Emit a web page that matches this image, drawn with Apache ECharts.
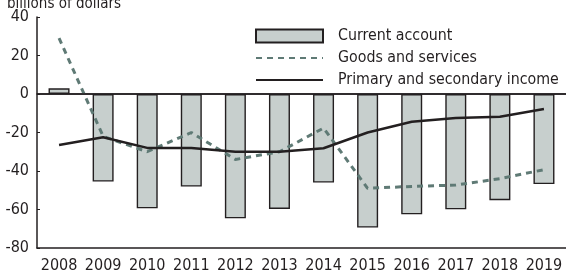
<!DOCTYPE html>
<html>
<head>
<meta charset="utf-8">
<script src="https://cdn.jsdelivr.net/npm/echarts@6/dist/echarts.min.js"></script>
<style>
  html, body { margin: 0; padding: 0; background: #fff; }
  #chart { width: 566px; height: 274px; }
</style>
</head>
<body>
<div id="chart"></div>
<script>
// 年份
const years = ['2008', '2009', '2010', '2011', '2012', '2013', '2014', '2015', '2016', '2017', '2018', '2019']
// 经常账户
const currentAccount = [3, -45.5, -59.4, -48.1, -64.6, -59.7, -46, -69.4, -62.5, -59.9, -55.2, -46.8]
// 货物和服务
const goodsServices = [29, -22, -30, -20, -34, -30, -17.7, -49, -48, -47.3, -44, -39.3]
// 初次和二次收入
const primarySecondary = [-26.5, -22.5, -28, -28, -30, -30, -28.2, -20, -14.4, -12.5, -11.8, -7.8]
const yTicks = [-80, -60, -40, -20, 0, 20, 40]

const font = '"DejaVu Sans Condensed", "Liberation Sans Narrow", "Liberation Sans", sans-serif'
const chart = echarts.init(document.getElementById('chart'))

// 图例中折线不显示圆点
const hideDot = { opacity: 0, borderWidth: 0 }

const option = {
  animation: false,
  title: {
    text: 'billions of dollars',
    left: 2,
    top: -8,
    textStyle: { fontFamily: font, fontSize: 15, fontWeight: 'normal', color: '#231f20' }
  },
  legend: {
    orient: 'vertical',
    left: 255,
    top: 28,
    padding: 0,
    itemWidth: 67,
    itemHeight: 13,
    itemGap: 6,
    textStyle: { fontFamily: font, fontSize: 15.8, color: '#231f20', padding: [0, 0, 0, 10] },
    data: [
      { name: 'Current account', icon: 'rect' },
      { name: 'Goods and services', itemStyle: hideDot },
      { name: 'Primary and secondary income', itemStyle: hideDot }
    ]
  },
  grid: { left: 37, top: 17, right: -2, bottom: 26 },
  xAxis: [
    {
      type: 'category',
      data: years,
      axisLine: { onZero: false, lineStyle: { color: '#231f20', width: 1.5 } },
      axisTick: { show: false },
      axisLabel: { interval: 0, fontFamily: font, fontSize: 16, color: '#231f20', margin: 10 }
    },
    {
      // 顶部边框
      type: 'category',
      position: 'top',
      data: years,
      axisLine: { lineStyle: { color: '#231f20', width: 1.5 } },
      axisTick: { show: false },
      axisLabel: { show: false }
    }
  ],
  yAxis: {
    type: 'value',
    min: yTicks[0],
    max: yTicks[yTicks.length - 1],
    interval: 20,
    axisLine: { show: true, lineStyle: { color: '#231f20', width: 1.5 } },
    axisTick: { show: true, inside: true, length: 3, lineStyle: { color: '#231f20' } },
    splitLine: { show: false },
    axisLabel: { fontFamily: font, fontSize: 16, color: '#231f20', margin: 8 }
  },
  series: [
    {
      name: 'Current account',
      type: 'bar',
      data: currentAccount,
      barWidth: 21,
      itemStyle: { color: '#c7cfcd', borderColor: '#231f20', borderWidth: 1.4 },
      markLine: {
        silent: true,
        symbol: 'none',
        label: { show: false },
        lineStyle: { color: '#231f20', width: 1.5, type: 'solid' },
        data: [{ yAxis: 0 }]
      }
    },
    {
      name: 'Goods and services',
      type: 'line',
      data: goodsServices,
      symbol: 'none',
      lineStyle: { color: '#5f7a75', width: 3, type: [6, 5] },
      itemStyle: { color: '#5f7a75' }
    },
    {
      name: 'Primary and secondary income',
      type: 'line',
      data: primarySecondary,
      symbol: 'none',
      lineStyle: { color: '#231f20', width: 2.5 },
      itemStyle: { color: '#231f20' }
    }
  ]
}
chart.setOption(option)
</script>
</body>
</html>
